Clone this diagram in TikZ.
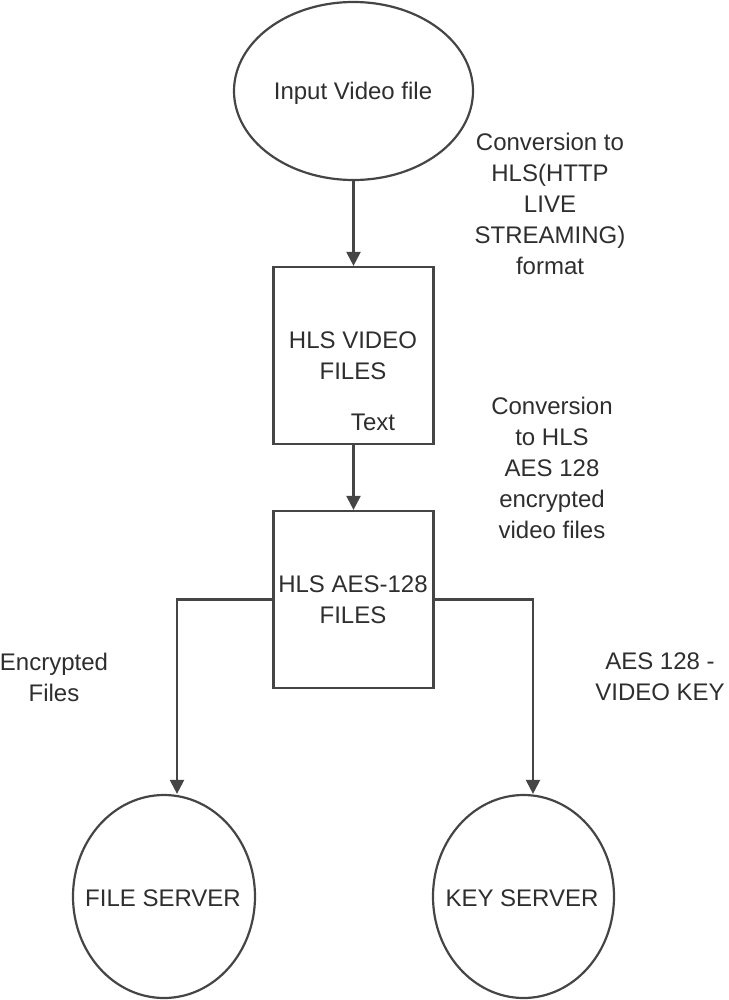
\documentclass[tikz,border=0pt]{standalone}
\usepackage{fontspec}
\setmainfont{Liberation Sans}
\usetikzlibrary{shapes.geometric,arrows.meta}
\definecolor{linec}{HTML}{454545}
\definecolor{textc}{HTML}{2E2E2E}
\tikzset{
  every node/.style={text=textc, font=\fontsize{24}{31}\selectfont},
  oval/.style={draw=linec, line width=2.2pt, ellipse, inner sep=0pt},
  boxnode/.style={draw=linec, line width=2.2pt, rectangle, inner sep=0pt, minimum width=160pt, minimum height=177pt},
  lbl/.style={align=center, inner sep=0pt},
  arr/.style={draw=linec, line width=2.2pt, -{Triangle[length=14pt,width=14pt]}},
}
\begin{document}
\begin{tikzpicture}[x=1pt,y=-1pt]
\useasboundingbox (0,0) rectangle (728,1000);
\node[oval, minimum width=239pt, minimum height=178pt] (inp) at (353.5,91) {};
\node[lbl] (inptxt) at (353,93) {Input Video file};
\node[boxnode] (hls) at (353.5,355.5) {};
\node[lbl] (hlstxt) at (353,356) {HLS VIDEO\\FILES};
\node[lbl] (txt) at (373,422) {Text};
\node[boxnode] (aes) at (353.5,599.5) {};
\node[lbl] (aestxt) at (353,600) {HLS AES-128\\FILES};
\node[oval, minimum width=182pt, minimum height=203pt] (fs) at (164,896.5) {};
\node[lbl] (fstxt) at (163,898) {FILE SERVER};
\node[oval, minimum width=181pt, minimum height=203pt] (ks) at (523.5,896.5) {};
\node[lbl] (kstxt) at (522,898) {KEY SERVER};
\node[lbl] (l1) at (550,204) {Conversion to\\HLS(HTTP\\LIVE\\STREAMING)\\format};
\node[lbl] (l2) at (552,468) {Conversion\\to HLS\\AES 128\\encrypted\\video files};
\node[lbl] (l3) at (54,677) {Encrypted\\Files};
\node[lbl] (l4) at (660,677) {AES 128 -\\VIDEO KEY};
\draw[arr] (inp.south) -- (hls.north);
\draw[arr] (hls.south) -- (aes.north);
\draw[arr] (aes.west) -| ([xshift=13pt]fs.north);
\draw[arr] (aes.east) -| ([xshift=9.5pt]ks.north);
\end{tikzpicture}
\end{document}
